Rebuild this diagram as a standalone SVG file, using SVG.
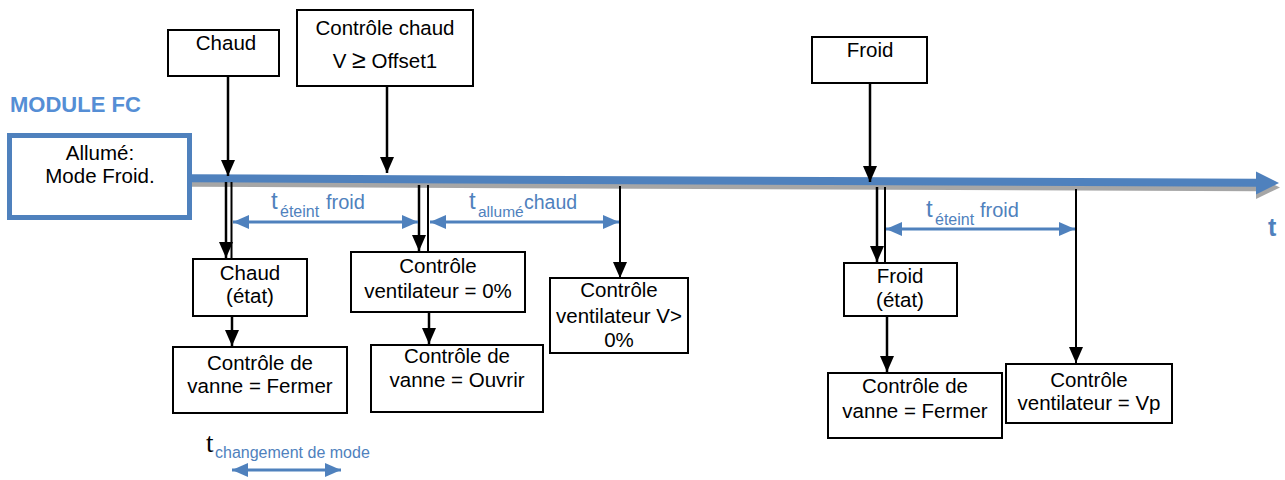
<svg xmlns="http://www.w3.org/2000/svg" width="1285" height="480" viewBox="0 0 1285 480">
<defs>
<style>
.box{fill:#fff;stroke:#000;stroke-width:2}
.lbl{font-family:"Liberation Sans",Arial,sans-serif;font-size:20.5px;fill:#000;text-anchor:middle}
.blu{font-family:"Liberation Sans",Arial,sans-serif;fill:#4F81BD}
.ln{stroke:#000;stroke-width:2.5;fill:none}
.thin{stroke:#000;stroke-width:2;fill:none}
.bl{stroke:#4F81BD;stroke-width:3;fill:none}
</style>
<marker id="ah" markerWidth="16" markerHeight="14" refX="16" refY="7" orient="auto" markerUnits="userSpaceOnUse" viewBox="0 0 16 14">
<path d="M0,0 L16,7 L0,14 Z" fill="#000"/>
</marker>
<marker id="bh" markerWidth="16" markerHeight="14" refX="16" refY="7" orient="auto-start-reverse" markerUnits="userSpaceOnUse" viewBox="0 0 16 14">
<path d="M0,0 L16,7 L0,14 Z" fill="#4F81BD"/>
</marker>
</defs>
<rect width="1285" height="480" fill="#fff"/>

<text x="10" y="112" font-family="'Liberation Sans',Arial,sans-serif" font-weight="bold" font-size="22" fill="#558ED5">MODULE FC</text>

<g id="axis">
<line x1="190" y1="182.8" x2="1258" y2="187.3" stroke="#A6A6A6" stroke-width="8"/>
<polygon points="1256,176 1280,187.5 1256,199" fill="#A6A6A6"/>
<line x1="190" y1="178.3" x2="1258" y2="182.8" stroke="#4F81BD" stroke-width="8"/>
<polygon points="1256,171.5 1279,183 1256,194.5" fill="#4F81BD"/>
<text x="1268" y="236" class="blu" font-weight="bold" font-size="25">t</text>
</g>

<g id="n-allume">
<rect x="9.5" y="135.5" width="180" height="82" fill="#fff" stroke="#4F81BD" stroke-width="5"/>
<text class="lbl" x="100" y="160">Allumé:</text>
<text class="lbl" x="100" y="183">Mode Froid.</text>
</g>

<g id="n-chaud">
<rect class="box" x="168" y="30" width="111" height="46"/>
<text class="lbl" x="226" y="50">Chaud</text>
</g>

<g id="n-controle-chaud">
<rect class="box" x="297" y="10" width="176" height="76"/>
<text class="lbl" x="385" y="35">Contrôle chaud</text>
<text class="lbl" x="385" y="68">V <tspan font-size="25">≥</tspan> Offset1</text>
</g>

<g id="n-froid">
<rect class="box" x="812" y="37" width="115" height="46"/>
<text class="lbl" x="870" y="57">Froid</text>
</g>

<g id="n-chaud-etat">
<rect class="box" x="193" y="259" width="114" height="57"/>
<text class="lbl" x="250" y="280">Chaud</text>
<text class="lbl" x="250" y="303">(état)</text>
</g>

<g id="n-vanne-fermer-1">
<rect class="box" x="173" y="347" width="174" height="66"/>
<text class="lbl" x="260" y="370">Contrôle de</text>
<text class="lbl" x="260" y="393">vanne = Fermer</text>
</g>

<g id="n-vent-0">
<rect class="box" x="351" y="252" width="174" height="60"/>
<text class="lbl" x="438" y="273">Contrôle</text>
<text class="lbl" x="438" y="298">ventilateur = 0%</text>
</g>

<g id="n-vanne-ouvrir">
<rect class="box" x="371" y="345" width="172" height="67"/>
<text class="lbl" x="457" y="363">Contrôle de</text>
<text class="lbl" x="457" y="387">vanne = Ouvrir</text>
</g>

<g id="n-vent-pos">
<rect class="box" x="550" y="278" width="138" height="75"/>
<text class="lbl" x="619" y="297">Contrôle</text>
<text class="lbl" x="619" y="323">ventilateur V&gt;</text>
<text class="lbl" x="619" y="347">0%</text>
</g>

<g id="n-froid-etat">
<rect class="box" x="844" y="263" width="113" height="53"/>
<text class="lbl" x="900" y="283">Froid</text>
<text class="lbl" x="900" y="307">(état)</text>
</g>

<g id="n-vanne-fermer-2">
<rect class="box" x="828" y="373" width="174" height="65"/>
<text class="lbl" x="915" y="393">Contrôle de</text>
<text class="lbl" x="915" y="418">vanne = Fermer</text>
</g>

<g id="n-vent-vp">
<rect class="box" x="1006" y="364" width="166" height="59"/>
<text class="lbl" x="1089" y="387">Contrôle</text>
<text class="lbl" x="1089" y="410">ventilateur = Vp</text>
</g>

<g id="connectors">
<line class="ln" x1="228" y1="76" x2="228" y2="176" marker-end="url(#ah)"/>
<line class="ln" x1="387" y1="86" x2="387" y2="173" marker-end="url(#ah)"/>
<line class="ln" x1="870" y1="83" x2="870" y2="182" marker-end="url(#ah)"/>

<line class="ln" x1="226" y1="182" x2="226" y2="258" marker-end="url(#ah)"/>
<line class="thin" x1="231.5" y1="182" x2="231.5" y2="259"/>
<line class="ln" x1="419" y1="185" x2="419" y2="251" marker-end="url(#ah)"/>
<line class="thin" x1="428" y1="185" x2="428" y2="252"/>
<line class="thin" x1="620" y1="186" x2="620" y2="278" marker-end="url(#ah)"/>
<line class="ln" x1="877" y1="187" x2="877" y2="262" marker-end="url(#ah)"/>
<line class="thin" x1="885" y1="187" x2="885" y2="263"/>
<line class="thin" x1="1076" y1="189" x2="1076" y2="363" marker-end="url(#ah)"/>

<line class="ln" x1="232" y1="316" x2="232" y2="346" marker-end="url(#ah)"/>
<line class="ln" x1="429" y1="312" x2="429" y2="344" marker-end="url(#ah)"/>
<line class="ln" x1="887" y1="316" x2="887" y2="372" marker-end="url(#ah)"/>

<line class="bl" x1="233" y1="222" x2="418" y2="222" marker-start="url(#bh)" marker-end="url(#bh)"/>
<line class="bl" x1="430" y1="222" x2="619" y2="222" marker-start="url(#bh)" marker-end="url(#bh)"/>
<line class="bl" x1="886" y1="229" x2="1075" y2="229" marker-start="url(#bh)" marker-end="url(#bh)"/>
<line class="bl" x1="232" y1="470" x2="341" y2="470" marker-start="url(#bh)" marker-end="url(#bh)"/>
</g>

<g id="labels">
<text class="blu" x="271" y="209" font-size="24">t</text>
<text class="blu" x="280" y="217" font-size="16">éteint</text>
<text class="blu" x="326" y="209" font-size="20">froid</text>

<text class="blu" x="469" y="209" font-size="24">t</text>
<text class="blu" x="478" y="217" font-size="15.5">allumé</text>
<text class="blu" x="524" y="209" font-size="19.5">chaud</text>

<text class="blu" x="926" y="217" font-size="24">t</text>
<text class="blu" x="935" y="225" font-size="16">éteint</text>
<text class="blu" x="980" y="217" font-size="20">froid</text>

<text x="206" y="452" font-family="'Liberation Serif','Times New Roman',serif" font-size="27" fill="#000">t</text>
<text class="blu" x="215" y="458" font-size="16">changement de mode</text>
</g>
</svg>
